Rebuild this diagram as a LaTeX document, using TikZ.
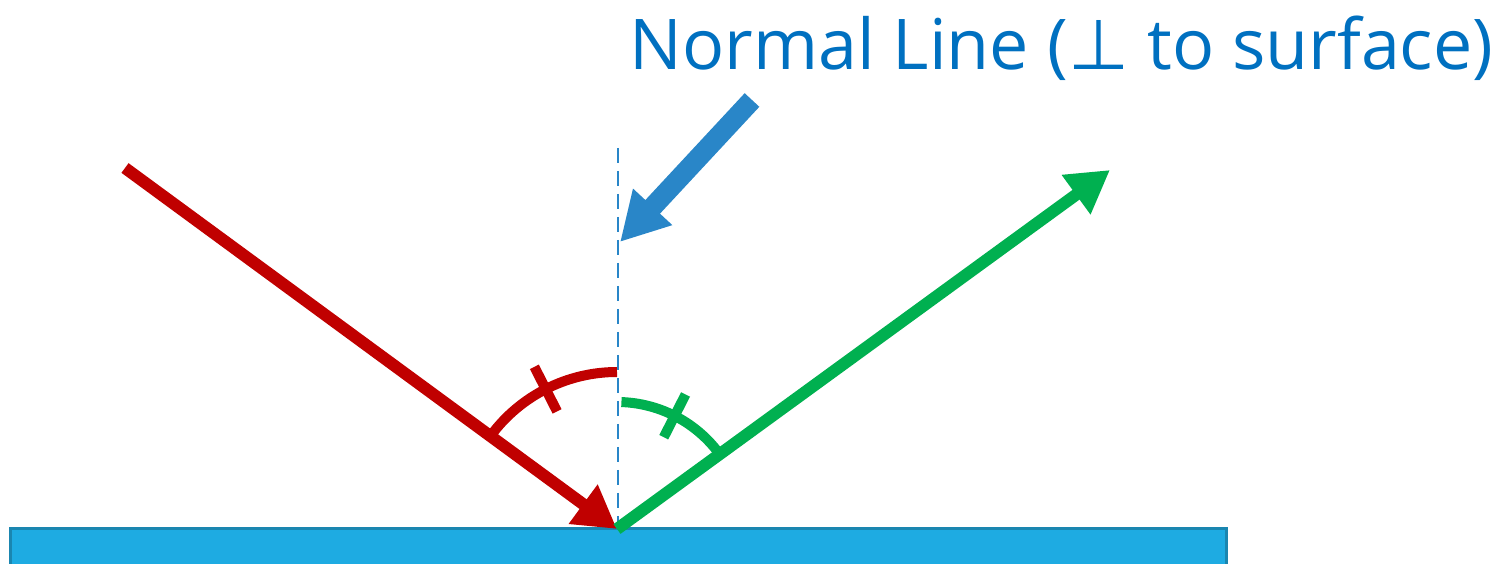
\documentclass[tikz,border=0pt]{standalone}
\usepackage{fontspec}
\setmainfont{Open Sans}
\newfontfamily\symfont{DejaVu Sans}
\usetikzlibrary{arrows.meta}
\definecolor{incred}{HTML}{C00000}
\definecolor{refgreen}{HTML}{00B050}
\definecolor{normblue}{HTML}{2986C8}
\definecolor{textblue}{HTML}{0070C0}
\definecolor{surffill}{HTML}{1EABE2}
\definecolor{surfedge}{HTML}{1A86B0}

\begin{document}
\begin{tikzpicture}[x=0.5pt,y=0.5pt,
    ray/.style={line width=6pt,-{Triangle[length=21pt,width=23pt]}},
    anglearc/.style={line width=5pt},
    tick/.style={line width=5pt}]
    \useasboundingbox (0,0) rectangle (1512,563);
    % surface
    \draw[surfedge,fill=surffill,line width=1.5pt] (10,34) rectangle (1226,-12);

    \coordinate (hit) at (617,34);
    \coordinate (src) at (125,395);
    \coordinate (dst) at (1110,393);
    \coordinate (ntop) at (618,415);
    \coordinate (nbot) at (618,34);
    \coordinate (ptail) at (752,463);
    \coordinate (phead) at (620,321);

    \node (label) [anchor=base west,inner sep=0pt,textblue,font=\fontsize{35}{44}\selectfont]
      at (629,493) {Normal Line ({\symfont ⊥} to surface)};

    % normal line
    \draw[normblue,line width=1pt,dash pattern=on 7.5pt off 4pt] (ntop) -- (nbot);

    % angle arcs with tick marks
    \draw[anglearc,incred] ([shift={(90:157)}]hit) arc[start angle=90,end angle=143.5,radius=157];
    \draw[tick,incred] ([shift={(117:132)}]hit) -- ([shift={(117:182)}]hit);
    \draw[anglearc,refgreen] ([shift={(88:127)}]hit) arc[start angle=88,end angle=36,radius=127];
    \draw[tick,refgreen] ([shift={(63:103)}]hit) -- ([shift={(63:151)}]hit);

    \path
    (src) edge[ray,incred] (hit)
    (hit) edge[ray,refgreen] (dst)
    (ptail) edge[normblue,line width=10pt,-{Triangle[length=24pt,width=25pt]}] (phead);
\end{tikzpicture}
\end{document}
